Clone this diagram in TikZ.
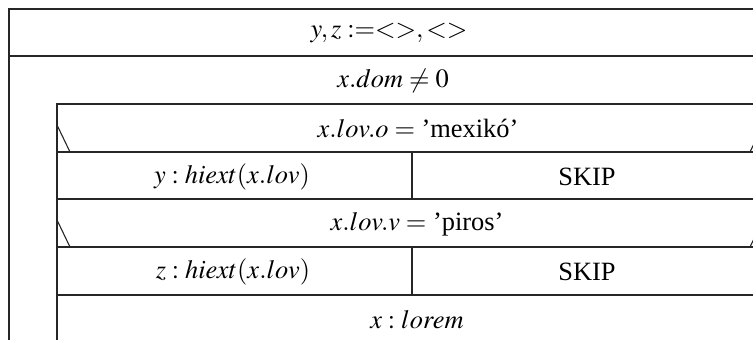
\documentclass[tikz,border=0pt]{standalone}
\usepackage{mathptmx}
\usepackage{fontspec}
\setmainfont{Liberation Serif}
\tikzset{
  cell/.style={line width=0.55pt, draw=black!85},
  txt/.style={inner sep=0pt, anchor=center, font=\fontsize{13.2}{15}\selectfont}
}
\begin{document}
\begin{tikzpicture}[x=0.5pt,y=-0.5pt]
\useasboundingbox (0,0) rectangle (753,340);
\clip (0,0) rectangle (753,340);
% outer frame
\draw[cell] (9,360) -- (9,9) -- (790,9);
\draw[cell] (9,56) -- (790,56);
% loop header bottom / body
\draw[cell] (57,360) -- (57,104) -- (790,104);
% if 1
\draw[cell] (57,152) -- (790,152);
\draw[cell] (57,125) -- (70,152);
\draw[cell] (763,125) -- (750,152);
\draw[cell] (412,152) -- (412,199);
\draw[cell] (57,199) -- (790,199);
% if 2
\draw[cell] (57,247) -- (790,247);
\draw[cell] (57,220) -- (70,247);
\draw[cell] (763,220) -- (750,247);
\draw[cell] (412,247) -- (412,295);
\draw[cell] (57,295) -- (790,295);
% texts
\node[txt] (init) at (389,33) {$y,z :=<>,<>$};
\node[txt] (loop) at (393,81) {$x.dom \neq 0$};
\node[txt] (c1) at (418,129) {$x.lov.o =$ 'mexikó'};
\node[txt] (a1) at (232,177) {$y : hiext(x.lov)$};
\node[txt] (s1) at (587,177) {SKIP};
\node[txt] (c2) at (417,224) {$x.lov.v =$ 'piros'};
\node[txt] (a2) at (233,272) {$z : hiext(x.lov)$};
\node[txt] (s2) at (587,272) {SKIP};
\node[txt] (l) at (417,320) {$x : lorem$};
\end{tikzpicture}
\end{document}
